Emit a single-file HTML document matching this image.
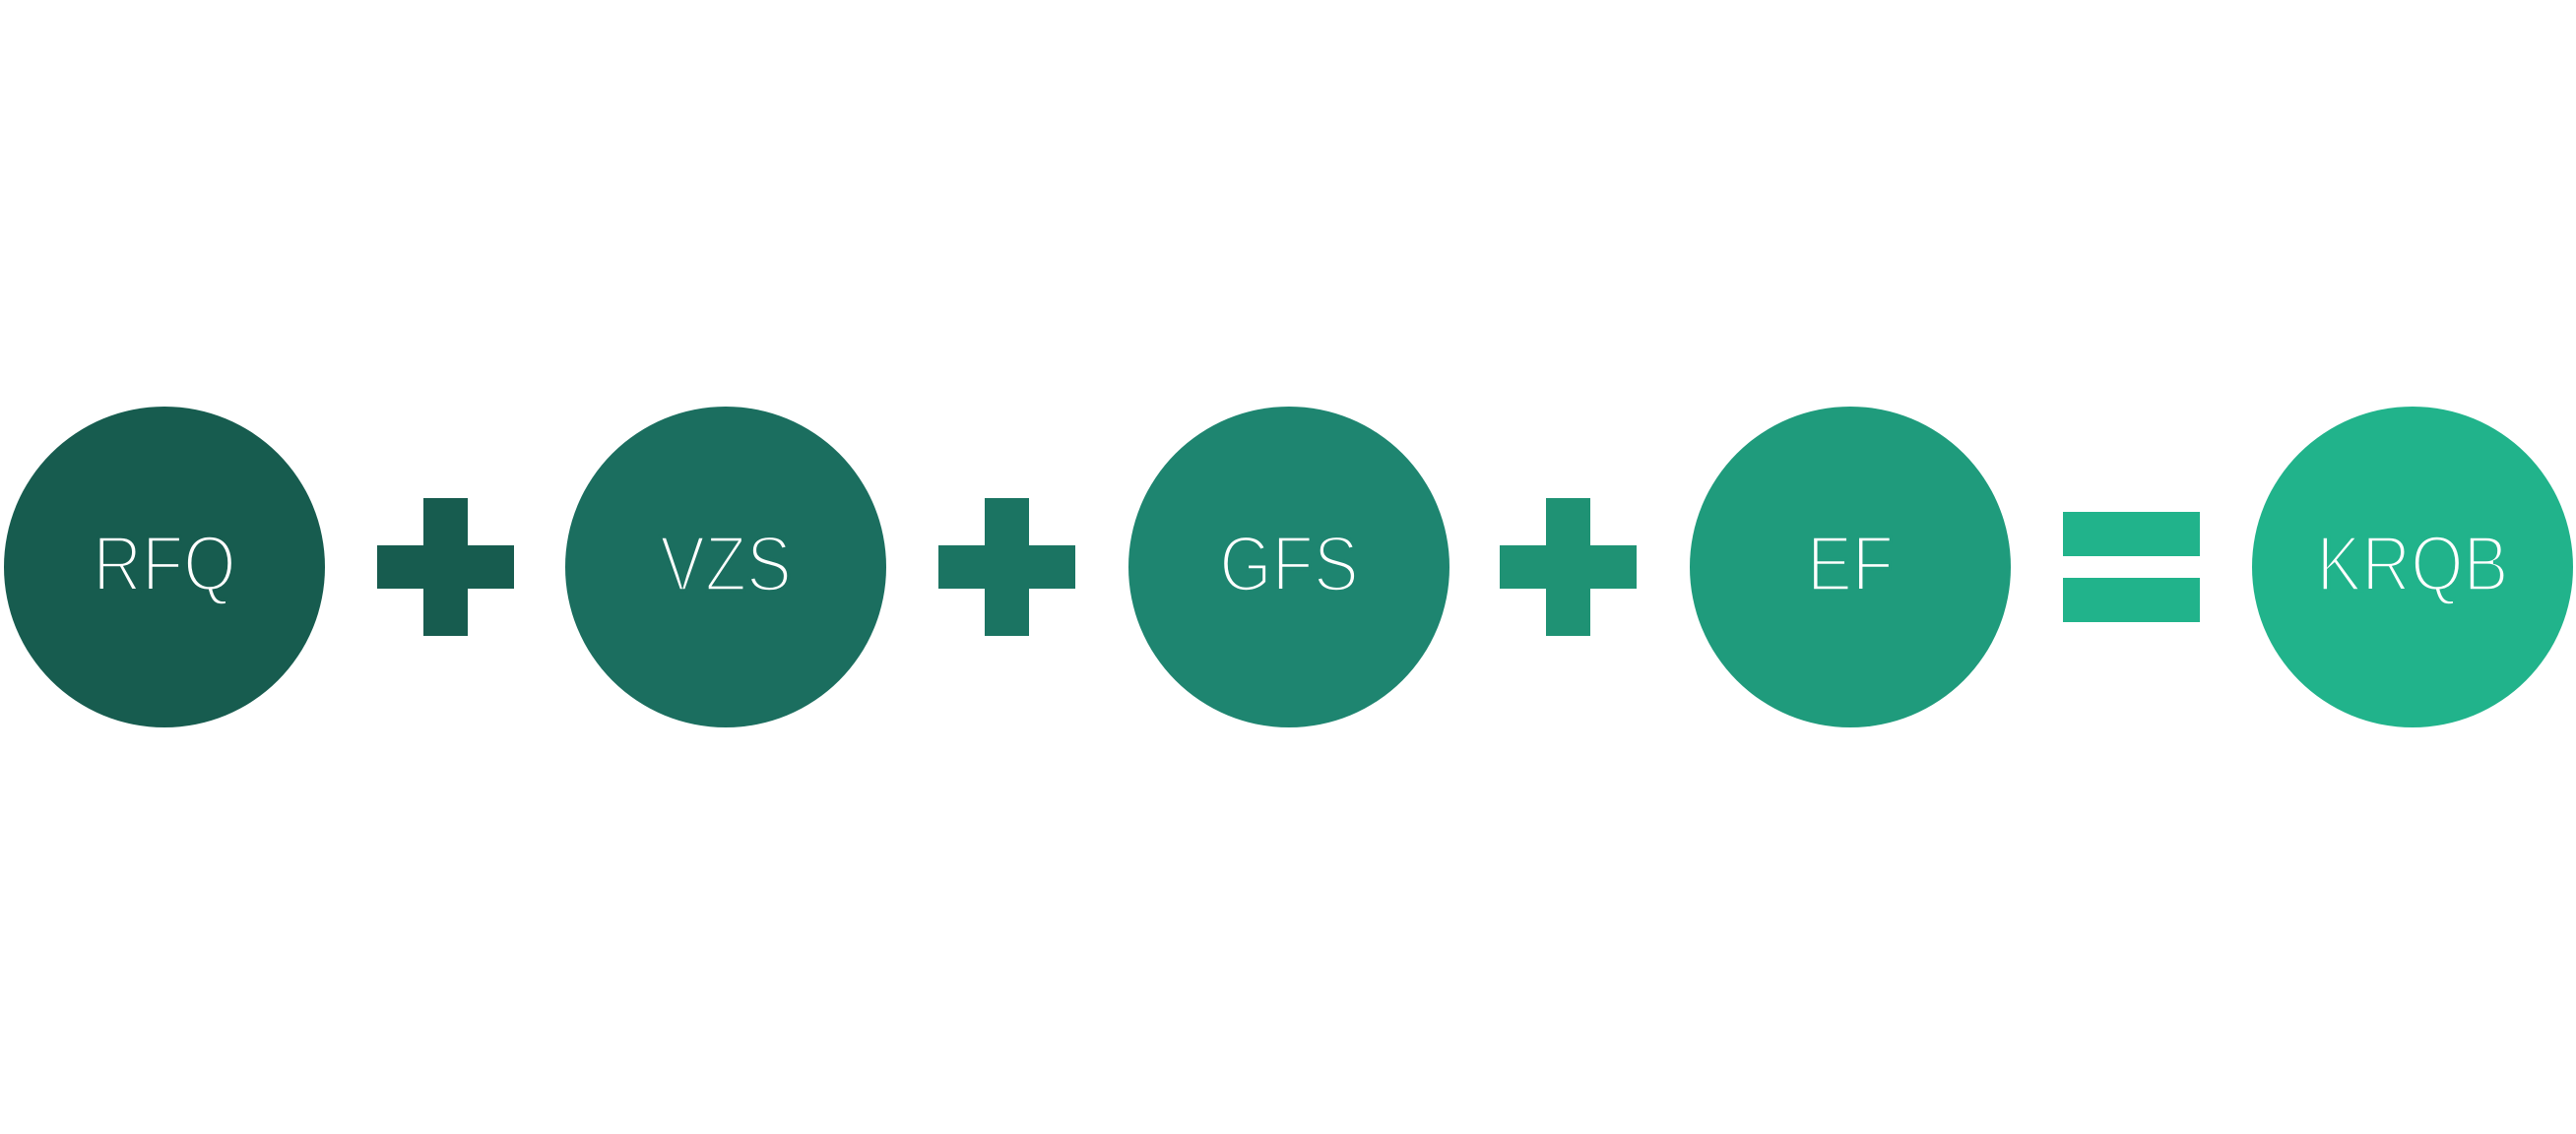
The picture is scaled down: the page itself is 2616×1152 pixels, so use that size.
<!DOCTYPE html>
<html><head><meta charset="utf-8"><style>
html,body{margin:0;padding:0;background:#fff;}
svg{display:block;}
text{font-family:"Liberation Sans",sans-serif;font-size:80px;fill:#fff;font-weight:normal;stroke-width:3.5px;}
</style></head><body>
<svg width="2616" height="1152" viewBox="0 0 2616 1152" xmlns="http://www.w3.org/2000/svg">
<circle cx="167" cy="576" r="163" fill="#175C4F"/>
<circle cx="737" cy="576" r="163" fill="#1B6E5F"/>
<circle cx="1309" cy="576" r="163" fill="#1E8570"/>
<circle cx="1879" cy="576" r="163" fill="#1F9B7C"/>
<circle cx="2450" cy="576" r="163" fill="#21B38B"/>
<g fill="#175C4F"><rect x="383" y="554" width="139" height="44"/><rect x="430" y="506" width="45" height="140"/></g>
<g fill="#1B7462"><rect x="953" y="554" width="139" height="44"/><rect x="1000" y="506" width="45" height="140"/></g>
<g fill="#1F9274"><rect x="1523" y="554" width="139" height="44"/><rect x="1570" y="506" width="45" height="140"/></g>
<g fill="#21B38B"><rect x="2095" y="520" width="139" height="45"/><rect x="2095" y="587" width="139" height="45"/></g>
<g text-anchor="middle">
<text transform="translate(167,600) scale(0.86,1)" stroke="#175C4F">RFQ</text>
<text transform="translate(737,600) scale(0.86,1)" stroke="#1B6E5F">VZS</text>
<text transform="translate(1309,600) scale(0.86,1)" stroke="#1E8570">GFS</text>
<text transform="translate(1879,600) scale(0.86,1)" stroke="#1F9B7C">EF</text>
<text transform="translate(2450,600) scale(0.86,1)" stroke="#21B38B">KRQB</text>
</g>
</svg>
</body></html>
